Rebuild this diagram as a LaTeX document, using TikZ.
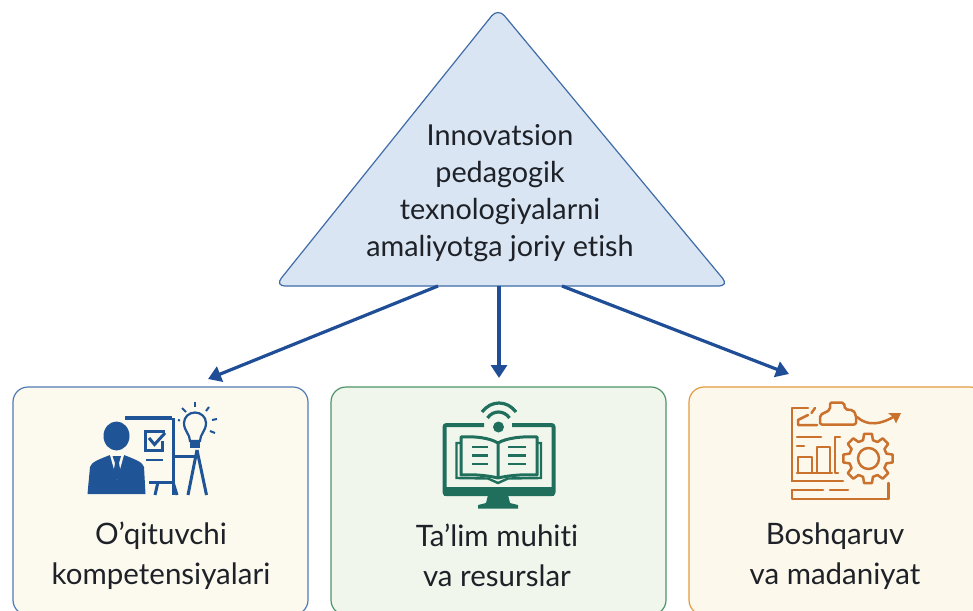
\documentclass[tikz,border=0pt]{standalone}
\usepackage{fontspec}
\setmainfont[Ligatures=NoCommon]{Lato}
\usetikzlibrary{arrows.meta}
\definecolor{triFill}{HTML}{D9E5F3}
\definecolor{triLine}{HTML}{3F6CA8}
\definecolor{arrowBlue}{HTML}{1F4E96}
\definecolor{iconBlue}{HTML}{1F5596}
\definecolor{iconGreen}{HTML}{1F6F5C}
\definecolor{iconOrange}{HTML}{C9712D}
\definecolor{creamA}{HTML}{FCF9EE}
\definecolor{greenA}{HTML}{F0F6EC}
\definecolor{creamC}{HTML}{FDF8EC}
\definecolor{lineA}{HTML}{4F7AB5}
\definecolor{lineB}{HTML}{4E9468}
\definecolor{lineC}{HTML}{E39A3C}
\definecolor{txt}{HTML}{1E2228}
\tikzset{
  x=1pt,y=-1pt,
  cardbox/.style={draw,line width=1.2pt,rounded corners=15pt},
  label/.style={text=txt,font=\fontsize{29.5}{40}\selectfont,align=center,inner sep=0},
  flow/.style={draw=arrowBlue,line width=3.2pt,-{Triangle[length=13pt,width=16pt]}},
  ib/.style={draw=iconBlue,line width=3pt},
  ig/.style={draw=iconGreen,line width=3pt},
  io/.style={draw=iconOrange,line width=2.5pt,line join=round,line cap=round},
}
\begin{document}
\begin{tikzpicture}
\useasboundingbox (0,0) rectangle (973,610);
\fill[white] (0,0) rectangle (973,610);
% triangle
\draw[fill=triFill,draw=triLine,line width=1.2pt,rounded corners=10pt]
  (498,8) -- (729,286) -- (275,286) -- cycle;
\node[label,font=\fontsize{28.8}{37}\selectfont] (tri) at (500,193) {Innovatsion\\pedagogik\\texnologiyalarni\\amaliyotga joriy etish};
% cards
\draw[cardbox,draw=lineA,fill=creamA] (13,387) rectangle (308,615);
\draw[cardbox,draw=lineB,fill=greenA] (331,387) rectangle (666,615);
\draw[cardbox,draw=lineC,fill=creamC] (689,387) rectangle (985,615);
\coordinate (a1s) at (438,286); \coordinate (a1e) at (208,379);
\coordinate (a2s) at (499,286); \coordinate (a2e) at (499,378);
\coordinate (a3s) at (562,286); \coordinate (a3e) at (789,374);
\draw[flow] (a1s) -- (a1e);
\draw[flow] (a2s) -- (a2e);
\draw[flow] (a3s) -- (a3e);
\node[label] (t1) at (161,556) {O’qituvchi\\kompetensiyalari};
\node[label] (t2) at (497,555) {Ta’lim muhiti\\va resurslar};
\node[label] (t3) at (835,556) {Boshqaruv\\va madaniyat};
% icon 1
\fill[iconBlue] (116.5,436) ellipse (13 and 14.5);
\fill[iconBlue] (87.5,494) -- (90,467) .. controls (91,462) and (100,459) .. (110,455) -- (124,455) .. controls (134,459) and (143,462) .. (144,467) -- (145.5,494) -- cycle;
\fill[creamA] (110,455) -- (124,455) -- (117,480) -- cycle;
\fill[iconBlue] (112.5,456) -- (121,456) -- (119,463) -- (121,475) -- (117,480) -- (113,475) -- (115,463) -- cycle;
\draw[ib,line width=3.2pt] (125,418) -- (172,418);
\draw[ib] (173,418) -- (173,495);
\draw[ib] (165,431) -- (145,431) -- (145,450) -- (162,450) -- (162,441);
\draw[ib] (149,438) -- (154.5,444.5) -- (165,433);
\draw[ib,line width=2.4pt] (146,460) -- (163,460);
\draw[ib] (149,482) -- (173,482);
\draw[ib] (158,482) -- (155,495);
\draw[ib] (173,482) -- (177,495);
\draw[ib] (174,456) -- (196,456);
\draw[ib] (197,450) -- (188,495);
\draw[ib] (197,450) -- (206.5,495);
\draw[ib,line width=2.2pt] (190,441) .. controls (190,434) and (184,431) .. (184,423) .. controls (184,417) and (189,412.5) .. (195,412.5) .. controls (201,412.5) and (206,417) .. (206,423) .. controls (206,431) and (200,434) .. (200,441) -- cycle;
\fill[iconBlue] (190,440) rectangle (200,448);
\draw[iconBlue,line width=2pt] (182,408) -- (186,412);
\draw[iconBlue,line width=2pt] (195,402) -- (195,407);
\draw[iconBlue,line width=2pt] (209,407) -- (206,411);
\draw[iconBlue,line width=2pt] (217,419) -- (212,420);
\draw[iconBlue,line width=2pt] (215,433) -- (210,431);
\draw[iconBlue,line width=2pt] (178,420) -- (180,420.5);
% icon 2
\draw[ig,line width=4pt,rounded corners=2pt] (484,425) -- (444.5,425) -- (444.5,494) -- (553.5,494) -- (553.5,425) -- (512,425);
\fill[iconGreen] (444,487) rectangle (554,496);
\fill[iconGreen] (488,495) -- (508,495) -- (510,503) -- (518,505) -- (518,508.5) -- (478,508.5) -- (478,505) -- (486,503) -- cycle;
\fill[iconGreen] (498.5,427) circle (5.5);
\draw[ig,line width=3.2pt] (487.5,418) .. controls (493,410) and (504,410) .. (509.5,418);
\draw[ig,line width=3.2pt] (482,412) .. controls (491,400) and (507,400) .. (516,412);
\draw[ig,line join=round] (498,443) .. controls (490,438) and (475,436) .. (461,437) -- (461,475) .. controls (475,474) and (490,476) .. (498,478) .. controls (506,476) and (521,474) .. (537,475) -- (537,437) .. controls (523,436) and (506,438) .. (498,443) -- (498,478);
\draw[ig,line width=2.4pt] (461,443) -- (456.5,443) -- (456.5,478) -- (488,478.5) -- (498,483) -- (508,478.5) -- (541,478) -- (541,443) -- (537,443);
\foreach \y in {447,455.5,464}{
  \draw[ig,line width=2.2pt] (472,\y) -- (488,\y);
  \draw[ig,line width=2.2pt] (508,\y) -- (526,\y);
}
% icon 3
\draw[io] (808,408) -- (792,408) -- (792,481);
\draw[io] (808,415) -- (798,420) -- (798,425) -- (817,425);
\draw[io] (815,408) -- (811.5,413);
\draw[io,rounded corners=2pt] (820,424.5) -- (820,415) -- (830,410) -- (830,402.5) -- (844,402.5) -- (845,409.5) -- (853,410) -- (856,415) -- (856,424.5) -- cycle;
\draw[io] (857,417) .. controls (868,427) and (882,424) .. (895,416);
\fill[iconOrange] (901,413) -- (888,413) -- (893,417) -- (896,423.5) -- cycle;
\draw[io] (797,437) -- (821,437);
\draw[io] (797,446) -- (804,446);
\draw[io] (798,473) -- (798,457) -- (812,457) -- (812,473);
\draw[io] (817,473) -- (817,447) -- (830,447) -- (830,473);
\draw[io] (797,473) -- (832,473);
\draw[io] (838,473) -- (835,473) -- (835,437) -- (840,437);
\draw[io] (792,481) -- (843,481);
\draw[io] (792,490) -- (792,499) -- (888.5,499) -- (888.5,483);
\draw[io] (792,490) -- (823,490);
\draw[io] (830,490) -- (848,490);
\foreach \i in {0,...,7}{
  \pgfmathsetmacro{\a}{\i*45}
  \draw[io] ([shift={(868,458.5)}]\a-15:19) -- ([shift={(868,458.5)}]\a-9:25) -- ([shift={(868,458.5)}]\a+9:25) -- ([shift={(868,458.5)}]\a+15:19) -- ([shift={(868,458.5)}]\a+30:19);
}
\draw[io] (868.5,458.5) circle (10.5);
\end{tikzpicture}
\end{document}
